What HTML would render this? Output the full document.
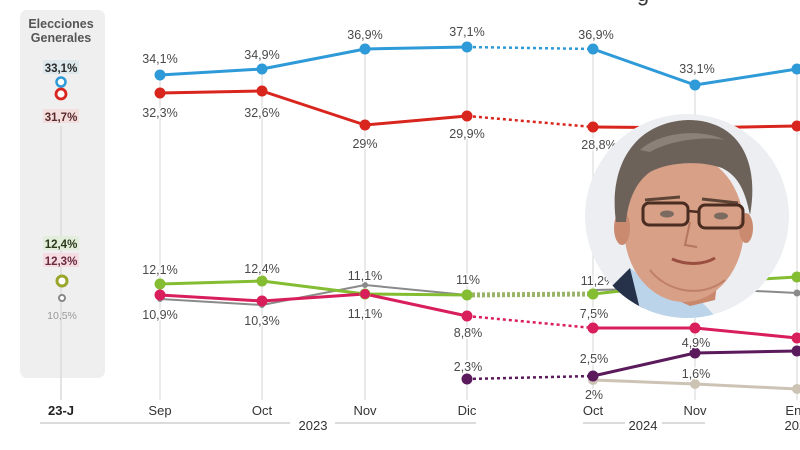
<!DOCTYPE html>
<html><head><meta charset="utf-8"><style>
html,body{margin:0;padding:0;background:#fff;width:800px;height:450px;overflow:hidden}
svg{display:block}
text{font-family:"Liberation Sans",sans-serif}
.l{font-size:12.5px;fill:#4a4a4a;text-anchor:middle;paint-order:stroke;stroke:#fff;stroke-width:3px;stroke-linejoin:round}
.ax{font-size:13px;fill:#333;text-anchor:middle}
</style></head><body>
<svg width="800" height="450" viewBox="0 0 800 450" xmlns="http://www.w3.org/2000/svg">
<defs><clipPath id="cp"><circle cx="687" cy="216" r="102"/></clipPath></defs>
<text x="643" y="1" font-size="22" fill="#333" text-anchor="middle">g</text>
<!-- left panel -->
<rect x="20" y="10" width="85" height="368" rx="7" fill="#efefef"/>
<line x1="61" y1="126" x2="61" y2="400" stroke="#dcdcdc" stroke-width="1.5"/>
<text x="61" y="28" font-size="12.5" font-weight="bold" fill="#555" text-anchor="middle">Elecciones</text>
<text x="61" y="42" font-size="12.5" font-weight="bold" fill="#555" text-anchor="middle">Generales</text>
<rect x="43" y="60" width="36" height="14" fill="#dce8ec"/>
<text x="61" y="72" font-size="11.5" font-weight="bold" fill="#2a2a2a" text-anchor="middle">33,1%</text>
<circle cx="61" cy="82" r="4.5" fill="#fff" stroke="#2e9ad8" stroke-width="2.5"/>
<circle cx="61" cy="94" r="5" fill="#fff" stroke="#d8261e" stroke-width="2.8"/>
<rect x="43" y="109" width="36" height="14" fill="#f3dede"/>
<text x="61" y="121" font-size="11.5" font-weight="bold" fill="#5a2a2a" text-anchor="middle">31,7%</text>
<rect x="43" y="236" width="36" height="14" fill="#e2eedb"/>
<text x="61" y="248" font-size="11.5" font-weight="bold" fill="#2a3a1a" text-anchor="middle">12,4%</text>
<rect x="43" y="253" width="36" height="14" fill="#f5dce3"/>
<text x="61" y="265" font-size="11.5" font-weight="bold" fill="#6a2a3a" text-anchor="middle">12,3%</text>
<circle cx="62" cy="281" r="5" fill="#fff" stroke="#9aa52c" stroke-width="3"/>
<circle cx="62" cy="298" r="3" fill="#fff" stroke="#888" stroke-width="2"/>
<text x="62" y="319" font-size="10.5" fill="#999" text-anchor="middle">10,5%</text>
<!-- gridlines -->
<g stroke="#e3e3e3" stroke-width="1.5">
<line x1="160" y1="75" x2="160" y2="400"/>
<line x1="262" y1="69" x2="262" y2="400"/>
<line x1="365" y1="49" x2="365" y2="400"/>
<line x1="467" y1="47" x2="467" y2="400"/>
<line x1="593" y1="49" x2="593" y2="400"/>
<line x1="695" y1="85" x2="695" y2="400"/>
<line x1="797" y1="69" x2="797" y2="400"/>
</g>
<!-- dotted connectors -->
<g fill="none" stroke-linecap="butt">
<line x1="467" y1="47" x2="593" y2="49" stroke="#2e9ad8" stroke-width="2.5" stroke-dasharray="3 3"/>
<line x1="467" y1="116" x2="593" y2="127" stroke="#d8261e" stroke-width="2.5" stroke-dasharray="3 3"/>
<line x1="467" y1="295" x2="593" y2="294" stroke="#9ab56a" stroke-width="5" stroke-dasharray="3 2"/>
<line x1="467" y1="316" x2="593" y2="328" stroke="#d81e5b" stroke-width="2.5" stroke-dasharray="3 3"/>
<line x1="467" y1="379" x2="593" y2="376" stroke="#5b1a5b" stroke-width="2.5" stroke-dasharray="3 3"/>
</g>
<!-- solid lines -->
<g fill="none" stroke-linejoin="round" stroke-linecap="round">
<polyline points="160,299 262,305 365,285 467,295" stroke="#8a8a8a" stroke-width="2"/>
<polyline points="593,290 695,288 797,293" stroke="#8a8a8a" stroke-width="2"/>
<polyline points="593,380 695,384 797,389" stroke="#cdc3b5" stroke-width="3"/>
<polyline points="160,284 262,281 365,294 467,295" stroke="#84bd31" stroke-width="3"/>
<polyline points="593,294 695,283 797,277" stroke="#84bd31" stroke-width="3"/>
<polyline points="160,295 262,301 365,294 467,316" stroke="#d81e5b" stroke-width="3"/>
<polyline points="593,328 695,328 797,338" stroke="#d81e5b" stroke-width="3"/>
<polyline points="593,376 695,353 797,351" stroke="#5b1a5b" stroke-width="3"/>
<polyline points="160,75 262,69 365,49 467,47" stroke="#2e9ad8" stroke-width="3"/>
<polyline points="593,49 695,85 797,69" stroke="#2e9ad8" stroke-width="3"/>
<polyline points="160,93 262,91 365,125 467,116" stroke="#d8261e" stroke-width="3"/>
<polyline points="593,127 695,128 797,126" stroke="#d8261e" stroke-width="3"/>
</g>
<!-- dots -->
<g>
<g fill="#8a8a8a"><circle cx="160" cy="299" r="3"/><circle cx="262" cy="305" r="3"/><circle cx="365" cy="285" r="3"/><circle cx="797" cy="293" r="3.5"/></g>
<g fill="#cdc3b5"><circle cx="593" cy="380" r="5"/><circle cx="695" cy="384" r="5"/><circle cx="797" cy="389" r="5"/></g>
<g fill="#84bd31"><circle cx="160" cy="284" r="5.5"/><circle cx="262" cy="281" r="5.5"/><circle cx="365" cy="294" r="5.5"/><circle cx="467" cy="295" r="5.5"/><circle cx="593" cy="294" r="5.5"/><circle cx="797" cy="277" r="5.5"/></g>
<g fill="#d81e5b"><circle cx="160" cy="295" r="5.5"/><circle cx="262" cy="301" r="5.5"/><circle cx="365" cy="294" r="5"/><circle cx="467" cy="316" r="5.5"/><circle cx="593" cy="328" r="5.5"/><circle cx="695" cy="328" r="5.5"/><circle cx="797" cy="338" r="5.5"/></g>
<g fill="#5b1a5b"><circle cx="467" cy="379" r="5.5"/><circle cx="593" cy="376" r="5.5"/><circle cx="695" cy="353" r="5.5"/><circle cx="797" cy="351" r="5.5"/></g>
<g fill="#2e9ad8"><circle cx="160" cy="75" r="5.5"/><circle cx="262" cy="69" r="5.5"/><circle cx="365" cy="49" r="5.5"/><circle cx="467" cy="47" r="5.5"/><circle cx="593" cy="49" r="5.5"/><circle cx="695" cy="85" r="5.5"/><circle cx="797" cy="69" r="5.5"/></g>
<g fill="#d8261e"><circle cx="160" cy="93" r="5.5"/><circle cx="262" cy="91" r="5.5"/><circle cx="365" cy="125" r="5.5"/><circle cx="467" cy="116" r="5.5"/><circle cx="593" cy="127" r="5.5"/><circle cx="797" cy="126" r="5.5"/></g>
</g>
<!-- labels -->
<g class="lg">
<text class="l" x="160" y="63">34,1%</text>
<text class="l" x="160" y="117">32,3%</text>
<text class="l" x="262" y="59">34,9%</text>
<text class="l" x="262" y="117">32,6%</text>
<text class="l" x="365" y="39">36,9%</text>
<text class="l" x="365" y="148">29%</text>
<text class="l" x="467" y="36">37,1%</text>
<text class="l" x="467" y="138">29,9%</text>
<text class="l" x="596" y="39">36,9%</text>
<text class="l" x="599" y="149">28,8%</text>
<text class="l" x="697" y="73">33,1%</text>
<text class="l" x="160" y="274">12,1%</text>
<text class="l" x="160" y="319">10,9%</text>
<text class="l" x="262" y="273">12,4%</text>
<text class="l" x="262" y="325">10,3%</text>
<text class="l" x="365" y="280">11,1%</text>
<text class="l" x="365" y="318">11,1%</text>
<text class="l" x="468" y="284">11%</text>
<text class="l" x="468" y="337">8,8%</text>
<text class="l" x="468" y="371">2,3%</text>
<text class="l" x="598" y="285">11,2%</text>
<text class="l" x="594" y="318">7,5%</text>
<text class="l" x="594" y="363">2,5%</text>
<text class="l" x="594" y="399">2%</text>
<text class="l" x="696" y="347">4,9%</text>
<text class="l" x="696" y="378">1,6%</text>
</g>
<!-- axis labels -->
<text x="61" y="415" font-size="13" font-weight="bold" fill="#222" text-anchor="middle">23-J</text>
<text class="ax" x="160" y="415">Sep</text>
<text class="ax" x="262" y="415">Oct</text>
<text class="ax" x="365" y="415">Nov</text>
<text class="ax" x="467" y="415">Dic</text>
<text class="ax" x="593" y="415">Oct</text>
<text class="ax" x="695" y="415">Nov</text>
<text class="ax" x="797" y="415">Ene</text>
<g stroke="#cfcfcf" stroke-width="1.5">
<line x1="40" y1="423" x2="290" y2="423"/>
<line x1="335" y1="423" x2="476" y2="423"/>
<line x1="583" y1="423" x2="625" y2="423"/>
<line x1="662" y1="423" x2="705" y2="423"/>
</g>
<text class="ax" x="313" y="430">2023</text>
<text class="ax" x="643" y="430">2024</text>
<text class="ax" x="799" y="430">2025</text>
<!-- photo -->
<g clip-path="url(#cp)">
<circle cx="687" cy="216" r="102" fill="#eceef2"/>
<path d="M595,330 L608,290 L630,268 L650,330 Z" fill="#26314a"/>
<path d="M630,268 L662,292 L700,300 L728,330 L645,330 Z" fill="#bcd4ea"/>
<path d="M655,260 L720,260 L715,300 L690,306 L660,292 Z" fill="#c9876c"/>
<ellipse cx="684" cy="228" rx="60" ry="74" fill="#d7a087"/>
<ellipse cx="622" cy="228" rx="8" ry="17" fill="#c98a70"/>
<ellipse cx="746" cy="228" rx="7" ry="15" fill="#c98a70"/>
<path d="M616,222 C608,165 635,122 688,120 C738,120 760,160 750,215 C745,190 738,176 722,168 C700,160 668,162 650,172 C636,182 628,200 626,222 Z" fill="#6d625a"/>
<path d="M640,150 C660,132 700,128 725,140 C705,136 670,140 650,152 Z" fill="#8c8178"/>
<path d="M645,200 L680,197" stroke="#5e4436" stroke-width="3" fill="none"/>
<path d="M702,199 L738,203" stroke="#5e4436" stroke-width="3" fill="none"/>
<rect x="643" y="203" width="45" height="22" rx="6" fill="none" stroke="#4a2c20" stroke-width="3"/>
<rect x="699" y="205" width="44" height="23" rx="6" fill="none" stroke="#4a2c20" stroke-width="3"/>
<line x1="688" y1="211" x2="699" y2="212" stroke="#4a2c20" stroke-width="2.5"/>
<ellipse cx="667" cy="214" rx="7" ry="3.5" fill="#7a6a60"/>
<ellipse cx="721" cy="216" rx="7" ry="3.5" fill="#7a6a60"/>
<path d="M690,222 L685,245 L697,247" stroke="#b5765e" stroke-width="2" fill="none"/>
<path d="M672,259 C688,266 705,264 715,258" stroke="#9a4e40" stroke-width="3" fill="none"/>
<path d="M650,270 C665,290 700,300 725,280" stroke="#c08068" stroke-width="2" fill="none"/>
</g>
</svg>
</body></html>
